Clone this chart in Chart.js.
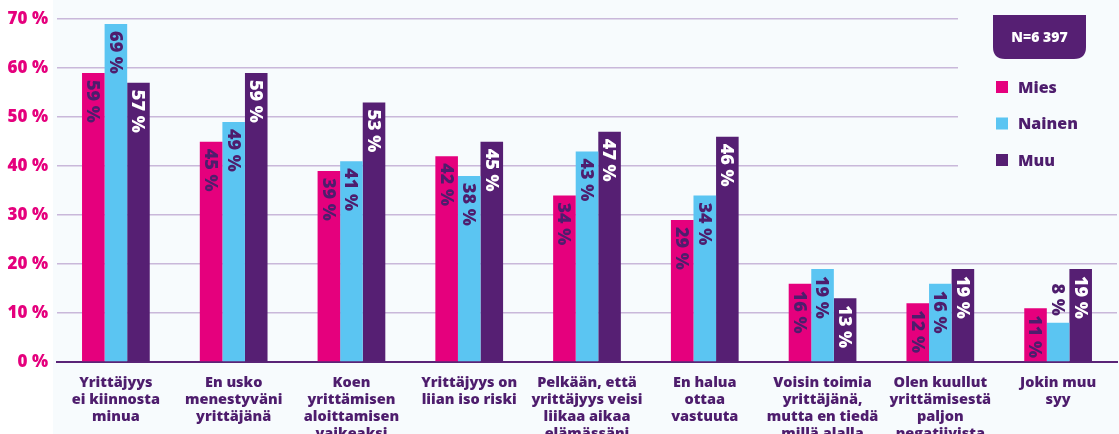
<!DOCTYPE html>
<html>
<head>
<meta charset="utf-8">
<script src="https://cdn.jsdelivr.net/npm/chart.js@4/dist/chart.umd.min.js"></script>
<style>
  html, body { margin: 0; padding: 0; background: #ffffff; }
  #wrap { position: relative; width: 1119px; height: 434px; }
</style>
</head>
<body>
<div id="wrap"><canvas id="reasons" width="1119" height="434"></canvas></div>
<script>
// Reasons for not becoming an entrepreneur, by gender
const categories = [
    ['Yrittäjyys', 'ei kiinnosta', 'minua'],
    ['En usko', 'menestyväni', 'yrittäjänä'],
    ['Koen', 'yrittämisen', 'aloittamisen', 'vaikeaksi'],
    ['Yrittäjyys on', 'liian iso riski'],
    ['Pelkään, että', 'yrittäjyys veisi', 'liikaa aikaa', 'elämässäni'],
    ['En halua', 'ottaa', 'vastuuta'],
    ['Voisin toimia', 'yrittäjänä,', 'mutta en tiedä', 'millä alalla'],
    ['Olen kuullut', 'yrittämisestä', 'paljon', 'negatiivista'],
    ['Jokin muu', 'syy']
];
const mies = [59, 45, 39, 42, 34, 29, 16, 12, 11];
const nainen = [69, 49, 41, 38, 43, 34, 19, 16, 8];
const muu = [57, 59, 53, 45, 47, 46, 13, 19, 19];
const yTicks = [0, 10, 20, 30, 40, 50, 60, 70];
const sampleNote = 'N=6 397';

const PINK = '#e5007d';
const BLUE = '#5bc5f2';
const PURPLE = '#561f73';
const TEXT = '#4e1d6d';
const FONT = '"Open Sans", Lato, sans-serif';

// light panel behind everything right of the y labels
const panelBg = {
    id: 'panelBg',
    beforeDraw(chart) {
        const ctx = chart.ctx;
        ctx.save();
        ctx.fillStyle = '#f7fbfd';
        ctx.fillRect(53, 0, chart.width - 53, chart.height);
        ctx.restore();
    }
};

// rotated value labels at the top of each bar
const barLabels = {
    id: 'barLabels',
    afterDatasetsDraw(chart) {
        const ctx = chart.ctx;
        ctx.save();
        ctx.font = '800 18px ' + FONT;
        chart.data.datasets.forEach((ds, i) => {
            chart.getDatasetMeta(i).data.forEach((bar, j) => {
                const txt = ds.data[j] + ' %';
                const w = ctx.measureText(txt).width;
                const h = bar.base - bar.y;
                let y, color;
                if (w + 10 > h) {
                    y = bar.y - 7 - w;
                    color = TEXT;
                } else {
                    y = bar.y + 7;
                    color = i === 2 ? '#ffffff' : TEXT;
                }
                ctx.save();
                ctx.translate(bar.x, y);
                ctx.rotate(Math.PI / 2);
                ctx.fillStyle = color;
                ctx.textAlign = 'left';
                ctx.textBaseline = 'middle';
                ctx.fillText(txt, 0, 1);
                ctx.restore();
            });
        });
        ctx.restore();
    }
};

// N box and legend in the top right corner
const legendBox = {
    id: 'legendBox',
    afterDraw(chart) {
        const ctx = chart.ctx;
        ctx.save();
        ctx.fillStyle = '#f7fbfd';
        ctx.fillRect(958, 0, chart.width - 958, 185);

        const x0 = 993, x1 = 1086, y0 = 15, y1 = 59, r = 12;
        ctx.fillStyle = PURPLE;
        ctx.beginPath();
        ctx.moveTo(x0, y0);
        ctx.lineTo(x1, y0);
        ctx.lineTo(x1, y1 - r);
        ctx.quadraticCurveTo(x1, y1, x1 - r, y1);
        ctx.lineTo(x0 + r, y1);
        ctx.quadraticCurveTo(x0, y1, x0, y1 - r);
        ctx.closePath();
        ctx.fill();
        ctx.fillStyle = '#ffffff';
        ctx.font = '800 14px ' + FONT;
        ctx.textAlign = 'center';
        ctx.textBaseline = 'middle';
        ctx.fillText(sampleNote, (x0 + x1) / 2, 38);

        ctx.textAlign = 'left';
        ctx.font = '800 16px ' + FONT;
        chart.data.datasets.forEach((ds, i) => {
            const cy = 87 + i * 36.5;
            ctx.fillStyle = ds.backgroundColor;
            ctx.fillRect(996, cy - 6, 12, 12);
            ctx.fillStyle = TEXT;
            ctx.fillText(ds.label, 1018, cy + 1);
        });
        ctx.restore();
    }
};

const ctx = document.getElementById('reasons').getContext('2d');
new Chart(ctx, {
    type: 'bar',
    data: {
        labels: categories,
        datasets: [
            { label: 'Mies', data: mies, backgroundColor: PINK },
            { label: 'Nainen', data: nainen, backgroundColor: BLUE },
            { label: 'Muu', data: muu, backgroundColor: PURPLE }
        ]
    },
    options: {
        responsive: false,
        animation: false,
        layout: { padding: { top: 19, right: 2, left: 0, bottom: 0 } },
        datasets: {
            bar: { categoryPercentage: 0.575, barPercentage: 1.0 }
        },
        plugins: {
            legend: { display: false },
            tooltip: { enabled: false }
        },
        scales: {
            x: {
                grid: { display: false, drawTicks: false },
                border: { display: true, color: '#5a2477', width: 2 },
                ticks: {
                    color: TEXT,
                    padding: 12,
                    maxRotation: 0,
                    autoSkip: false,
                    font: { family: FONT, size: 14.5, weight: '800', lineHeight: 1.17 }
                },
                afterFit(scale) { scale.height = 72; }
            },
            y: {
                min: 0,
                max: 70,
                afterBuildTicks(scale) { scale.ticks = yTicks.map(v => ({ value: v })); },
                grid: {
                    color: ctx => ctx.tick.value === 0 ? 'rgba(0,0,0,0)' : '#c9b8da',
                    lineWidth: 1.5,
                    drawTicks: false
                },
                border: { display: false },
                ticks: {
                    color: PINK,
                    padding: 9,
                    font: { family: FONT, size: 17, weight: '800' },
                    callback: v => v + ' %'
                },
                afterFit(scale) { scale.width = 57; }
            }
        }
    },
    plugins: [panelBg, barLabels, legendBox]
});
</script>
</body>
</html>
